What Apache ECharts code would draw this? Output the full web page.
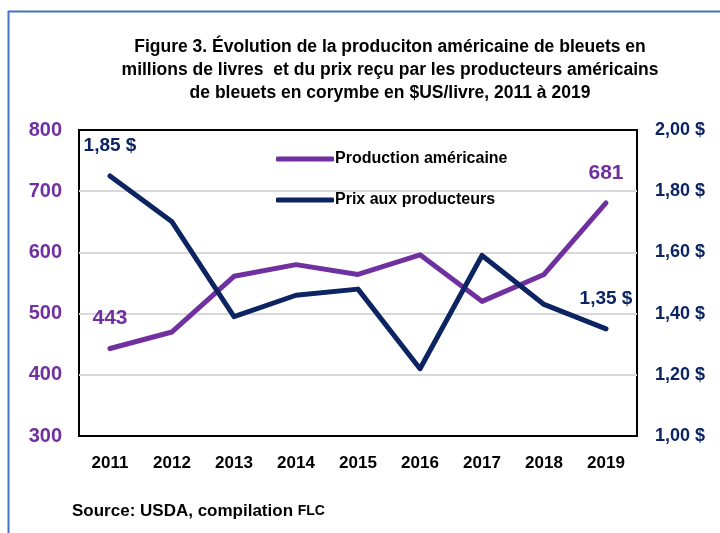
<!DOCTYPE html>
<html><head><meta charset="utf-8">
<script src="https://cdn.jsdelivr.net/npm/echarts@6/dist/echarts.min.js"></script>
<style>html,body{margin:0;padding:0;background:#fff}#c{width:720px;height:533px}</style>
</head><body><div id="c"></div>
<script>
var years = ['2011','2012','2013','2014','2015','2016','2017','2018','2019'];
var production = [443, 470, 561, 580, 564, 596, 520, 564, 681];
var prix = [1.85, 1.70, 1.39, 1.46, 1.48, 1.22, 1.59, 1.43, 1.35];
var leftTicks = [300, 800, 100];
var rightTicks = [1.0, 2.0, 0.2];
var FONT = "'Liberation Sans',Arial,sans-serif";
var PURPLE = '#7030A0', NAVY = '#0C2461';
function fmtPrix(v){ return v.toFixed(2).replace('.', ',') + ' $'; }
var chart = echarts.init(document.getElementById('c'), null, {renderer:'canvas'});
var last = years.length - 1;
chart.setOption({
  animation:false,
  textStyle:{fontFamily:FONT},
  title:{
    text:'Figure 3. Évolution de la produciton américaine de bleuets en\nmillions de livres  et du prix reçu par les producteurs américains\nde bleuets en corymbe en $US/livre, 2011 à 2019',
    left:385, top:31, textAlign:'center',
    textStyle:{fontFamily:FONT, fontSize:17.5, fontWeight:'bold', color:'#000', lineHeight:23}
  },
  graphic:[
    {type:'line', shape:{x1:8.5,y1:11,x2:8.5,y2:533}, style:{stroke:'#4472C4', lineWidth:2}},
    {type:'line', shape:{x1:8,y1:11.5,x2:720,y2:11.5}, style:{stroke:'#4472C4', lineWidth:2}},
    {type:'text', left:72, top:503, style:{
      text:'{a|Source: USDA, compilation }{b|FLC}',
      rich:{a:{fontFamily:FONT,fontSize:17,fontWeight:'bold',fill:'#000'}, b:{fontFamily:FONT,fontSize:14,fontWeight:'bold',fill:'#000'}}
    }}
  ],
  legend:{
    orient:'vertical', left:271, top:146, itemGap:25,
    itemWidth:58, itemHeight:5, icon:'roundRect',
    textStyle:{fontFamily:FONT, fontSize:16, fontWeight:'bold', color:'#000', padding:[0,0,0,-4]},
    data:['Production américaine','Prix aux producteurs']
  },
  grid:{left:79, top:130, right:83, bottom:97, show:true, borderColor:'#000', borderWidth:2, containLabel:false},
  xAxis:{
    type:'category', data:years, boundaryGap:true,
    axisLine:{show:false}, axisTick:{show:false},
    axisLabel:{fontFamily:FONT, fontSize:17, fontWeight:'bold', color:'#000', margin:19}
  },
  yAxis:[
    {type:'value', min:leftTicks[0], max:leftTicks[1], interval:leftTicks[2], position:'left',
     axisLine:{show:false}, axisTick:{show:false},
     axisLabel:{fontFamily:FONT, fontSize:20, fontWeight:'bold', color:PURPLE, margin:17},
     splitLine:{show:true, showMinLine:false, showMaxLine:false, lineStyle:{color:'#D9D9D9', width:2}}},
    {type:'value', min:rightTicks[0], max:rightTicks[1], interval:rightTicks[2], position:'right',
     axisLine:{show:false}, axisTick:{show:false},
     axisLabel:{fontFamily:FONT, fontSize:18, fontWeight:'bold', color:NAVY, margin:18, formatter:fmtPrix},
     splitLine:{show:false}}
  ],
  series:[
    {name:'Production américaine', type:'line', data:production, yAxisIndex:0,
     symbol:'circle', symbolSize:1, showSymbol:true,
     lineStyle:{color:PURPLE, width:5, cap:'round', join:'round'}, itemStyle:{color:PURPLE},
     label:{show:true, position:'top', distance:19, fontFamily:FONT, fontSize:21, fontWeight:'bold', color:PURPLE,
       formatter:function(p){ return (p.dataIndex===0||p.dataIndex===last) ? String(p.value) : ''; }}},
    {name:'Prix aux producteurs', type:'line', data:prix, yAxisIndex:1,
     symbol:'circle', symbolSize:1, showSymbol:true,
     lineStyle:{color:NAVY, width:5, cap:'round', join:'round'}, itemStyle:{color:NAVY},
     label:{show:true, position:'top', distance:20, fontFamily:FONT, fontSize:19, fontWeight:'bold', color:NAVY,
       formatter:function(p){ return (p.dataIndex===0||p.dataIndex===last) ? fmtPrix(p.value) : ''; }}}
  ]
});
</script></body></html>
